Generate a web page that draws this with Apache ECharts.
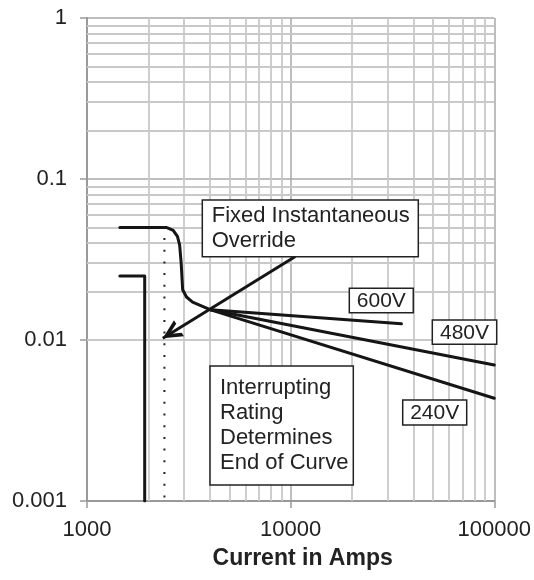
<!DOCTYPE html>
<html>
<head>
<meta charset="utf-8">
<script src="https://cdn.jsdelivr.net/npm/echarts@6/dist/echarts.min.js"></script>
<style>
html,body{margin:0;padding:0;background:#fff;}
#c{width:534px;height:580px;}
</style>
</head>
<body>
<div id="c"></div>
<script>
// ---- data ----
var xTicks = [1000, 10000, 100000];
var yTicks = [0.001, 0.01, 0.1, 1];
var xMinor = [2000,3000,4000,5000,6000,7000,8000,9000,20000,30000,40000,50000,60000,70000,80000,90000];
var yMinor = [0.002,0.003,0.004,0.005,0.006,0.007,0.008,0.009,0.02,0.03,0.04,0.05,0.06,0.07,0.08,0.09,0.2,0.3,0.4,0.5,0.6,0.7,0.8,0.9];
var mainCurve = [[1450,0.05],[2450,0.05],[2650,0.048],[2780,0.044],[2850,0.039],[2900,0.03],[2950,0.0205],[3080,0.0185],[3300,0.0172],[4050,0.0154]];
var branch600 = [[4050,0.0154],[35000,0.0126]];
var branch480 = [[4050,0.0154],[100000,0.0070]];
var branch240 = [[4050,0.0154],[100000,0.00435]];
var leftCurve = [[1450,0.025],[1920,0.025],[1920,0.001]];
var dottedLine = [[2400,0.043],[2400,0.001]];
var arrowFrom = [10540, 0.033];
var arrowTo = [2356, 0.01026];

var chart = echarts.init(document.getElementById('c'), null, {renderer:'canvas'});
var FONT = 'Liberation Sans, Arial, Helvetica, sans-serif';
function fmt(v){ return String(+Number(v).toPrecision(6)); }
function curve(name, data){
  return {type:'line', name:name, data:data, showSymbol:false, symbol:'none', z:8,
    lineStyle:{color:'#151515', width:3, cap:'round', join:'round'}, silent:true, animation:false};
}
var option = {
  animation:false,
  grid:{left:87, right:37, top:18, bottom:79},
  xAxis:{type:'log', logBase:10, min:1000, max:100000,
    name:'Current in Amps', nameLocation:'middle', nameGap:46,
    nameTextStyle:{fontFamily:FONT, fontSize:23, fontWeight:'bold', color:'#222', padding:[0,0,0,24]},
    axisLine:{show:true, lineStyle:{color:'#999', width:2}},
    axisTick:{show:true, length:7, lineStyle:{color:'#999', width:1.5}},
    axisLabel:{formatter:fmt, fontFamily:FONT, fontSize:22, color:'#222', margin:18},
    splitLine:{show:true, lineStyle:{color:'#a8a8a8', width:1.5}},
    minorTick:{show:false}
  },
  yAxis:{type:'log', logBase:10, min:0.001, max:1,
    axisLine:{show:true, lineStyle:{color:'#999', width:2}},
    axisTick:{show:true, length:7, lineStyle:{color:'#999', width:1.5}},
    axisLabel:{formatter:fmt, fontFamily:FONT, fontSize:22, color:'#222', margin:20},
    splitLine:{show:true, lineStyle:{color:'#a8a8a8', width:1.5}}
  },
  series:[
    {type:'line', data:[[1000,0.001]], showSymbol:false, symbol:'none', z:1, silent:true,
      lineStyle:{width:0},
      markLine:{z:1, silent:true, symbol:['none','none'], animation:false, label:{show:false},
        lineStyle:{color:'#c9c9c9', width:1.8, type:'solid'},
        data: xMinor.map(function(v){return {xAxis:v};}).concat(yMinor.map(function(v){return {yAxis:v};}))
      }
    },
    curve('main', mainCurve),
    curve('600V', branch600),
    curve('480V', branch480),
    curve('240V', branch240),
    curve('left', leftCurve),
    {type:'line', name:'dotted', data:dottedLine, showSymbol:false, symbol:'none', z:8, silent:true,
      lineStyle:{color:'#222', width:2, type:[2,9.7]}},
    {type:'line', name:'arrow', data:[], z:9, silent:true,
      markLine:{z:9, silent:true, animation:false, label:{show:false},
        symbol:['none','path://M0,0 L10,18 L5.5,18 L0,7.5 L-5.5,18 L-10,18 Z M0,-18 L0.01,-18 L0,-18 Z'], symbolSize:[19,38],
        lineStyle:{color:'#151515', width:3, type:'solid'},
        data:[[{coord:arrowFrom},{coord:arrowTo}]]
      }
    }
  ]
};
chart.setOption(option);

function box(x,y,w,h){
  return {type:'rect', z:10, shape:{x:x,y:y,width:w,height:h}, style:{fill:'#fff', stroke:'#222', lineWidth:1.5}};
}
function txt(x,y,s,align,size){
  return {type:'text', z:11, x:x, y:y, style:{text:s, font:(size||22)+'px '+FONT, fill:'#222', lineHeight:25,
    align:align||'left', verticalAlign:'top'}};
}
chart.setOption({graphic:[
  box(202.3,200,216,56.7), txt(211.7,203,'Fixed Instantaneous\nOverride'),
  box(349.3,288.3,64,24.4), txt(381.3,289,'600V','center',21),
  box(432.3,320,64.4,24.3), txt(464.5,320.5,'480V','center',21),
  box(402.7,400,64,25), txt(434.7,400.5,'240V','center',21),
  box(210,366,143.3,119), txt(220,375,'Interrupting\nRating\nDetermines\nEnd of Curve')
]});
</script>
</body>
</html>
